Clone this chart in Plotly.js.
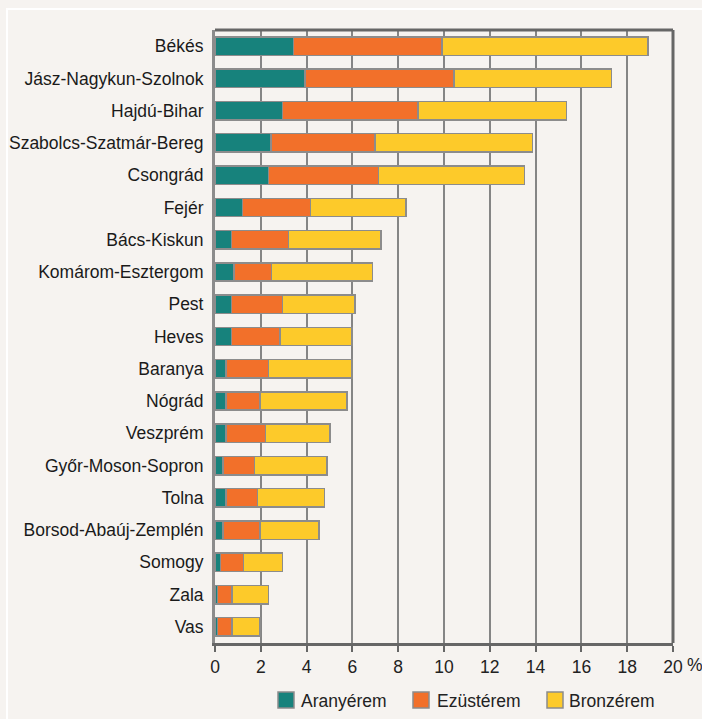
<!DOCTYPE html>
<html>
<head>
<meta charset="utf-8">
<script src="https://cdn.plot.ly/plotly-3.0.1.min.js"></script>
<style>
  html, body { margin: 0; padding: 0; background: #f6f3f0; width: 702px; height: 719px; overflow: hidden; }
  #frame { position: absolute; left: 6px; top: 8px; width: 900px; height: 900px;
           border-left: 2px solid #ffffff; border-top: 2px solid #ffffff; }
  #chart { position: absolute; left: 0; top: 0; width: 702px; height: 719px; }
</style>
</head>
<body>
<div id="frame"></div>
<div id="chart"></div>
<script>
// Counties (top to bottom)
const categories = [
  'Békés', 'Jász-Nagykun-Szolnok', 'Hajdú-Bihar', 'Szabolcs-Szatmár-Bereg', 'Csongrád',
  'Fejér', 'Bács-Kiskun', 'Komárom-Esztergom', 'Pest', 'Heves', 'Baranya', 'Nógrád',
  'Veszprém', 'Győr-Moson-Sopron', 'Tolna', 'Borsod-Abaúj-Zemplén', 'Somogy', 'Zala', 'Vas'
];
// Series values (%)
const aranyerem = [3.42, 3.93, 2.94, 2.44, 2.33, 1.21, 0.73, 0.84, 0.73, 0.73, 0.48, 0.48, 0.48, 0.36, 0.48, 0.36, 0.23, 0.10, 0.10];
const ezusterem = [6.50, 6.50, 5.92, 4.55, 4.80, 2.95, 2.47, 1.62, 2.21, 2.11, 1.86, 1.48, 1.73, 1.36, 1.37, 1.60, 1.01, 0.64, 0.64];
const bronzerem = [8.99, 6.88, 6.48, 6.88, 6.38, 4.17, 4.04, 4.42, 3.18, 3.15, 3.65, 3.80, 2.81, 3.18, 2.94, 2.58, 1.71, 1.60, 1.22];
const seriesNames = ['Aranyérem', 'Ezüstérem', 'Bronzérem'];
const seriesColors = ['#17827c', '#f2702a', '#fdca2a'];
// X axis ticks
const xTickVals = [0, 2, 4, 6, 8, 10, 12, 14, 16, 18, 20];
const xTickText = ['0', '2', '4', '6', '8', '10', '12', '14', '16', '18', '20'];
const unitLabel = '%';

const FONT = 'Liberation Sans, Arial, sans-serif';
const FS = 17.5;
const outline = { color: '#8c8c8c', width: 1.5 };
const seriesData = [aranyerem, ezusterem, bronzerem];

const traces = seriesData.map((vals, i) => ({
  type: 'bar',
  orientation: 'h',
  name: seriesNames[i],
  y: categories,
  x: vals,
  marker: { color: seriesColors[i], line: outline },
  hoverinfo: 'x+y+name',
  showlegend: false
}));

// manual legend (squares + labels), positions in pixels converted to paper coords
const L = 215, R = 673, T = 30, B = 643;
const pw = R - L, ph = B - T;
const px2x = p => (p - L) / pw;
const py2y = p => (B - p) / ph;
const legendSquareX = [278, 413, 547];
const legendTextX = [299, 435, 567];
const legendY = 700;
const shapes = [
  { type: 'line', xref: 'x domain', yref: 'y domain', x0: 1, x1: 1, y0: 0, y1: 1,
    line: { color: '#666666', width: 3 } },
  { type: 'line', xref: 'x domain', yref: 'y domain', x0: 0, x1: 1, y0: 1, y1: 1,
    line: { color: '#666666', width: 3 } }
];
const annotations = [
  { xref: 'paper', yref: 'paper', x: px2x(685), y: py2y(665), xanchor: 'left', yanchor: 'middle',
    text: unitLabel, showarrow: false, font: { family: FONT, size: FS, color: '#222222' } }
];
seriesNames.forEach((n, i) => {
  shapes.push({ type: 'rect', xref: 'paper', yref: 'paper',
    x0: px2x(legendSquareX[i]), x1: px2x(legendSquareX[i] + 16),
    y0: py2y(legendY - 8), y1: py2y(legendY + 8),
    fillcolor: seriesColors[i], line: { color: '#8c8c8c', width: 1.5 } });
  annotations.push({ xref: 'paper', yref: 'paper', x: px2x(legendTextX[i]), y: py2y(legendY + 1),
    xanchor: 'left', yanchor: 'middle', text: n, showarrow: false,
    font: { family: FONT, size: FS, color: '#222222' } });
});

const layout = {
  width: 702, height: 719,
  margin: { l: L, r: 702 - R, t: T, b: 719 - B, pad: 0 },
  paper_bgcolor: 'rgba(0,0,0,0)',
  plot_bgcolor: 'rgba(0,0,0,0)',
  barmode: 'stack',
  bargap: 0.43,
  font: { family: FONT, size: FS, color: '#222222' },
  xaxis: {
    range: [0, 20],
    tickvals: xTickVals, ticktext: xTickText,
    showgrid: true, gridcolor: '#858585', gridwidth: 2,
    showline: true, linecolor: '#666666', linewidth: 3, mirror: false,
    ticks: 'outside', ticklen: 6, tickwidth: 2, tickcolor: '#666666',
    tickfont: { family: FONT, size: FS, color: '#222222' },
    zeroline: false, fixedrange: true
  },
  yaxis: {
    type: 'category',
    categoryorder: 'array', categoryarray: categories,
    range: [categories.length - 0.5, -0.5],
    showgrid: false,
    showline: true, linecolor: '#8c8c8c', linewidth: 3, mirror: false,
    ticks: '', ticklabelstandoff: 5,
    tickfont: { family: FONT, size: FS, color: '#1a1a1a' },
    zeroline: false, fixedrange: true
  },
  shapes: shapes,
  annotations: annotations
};

Plotly.newPlot('chart', traces, layout, { displayModeBar: false, staticPlot: true });
</script>
</body>
</html>
